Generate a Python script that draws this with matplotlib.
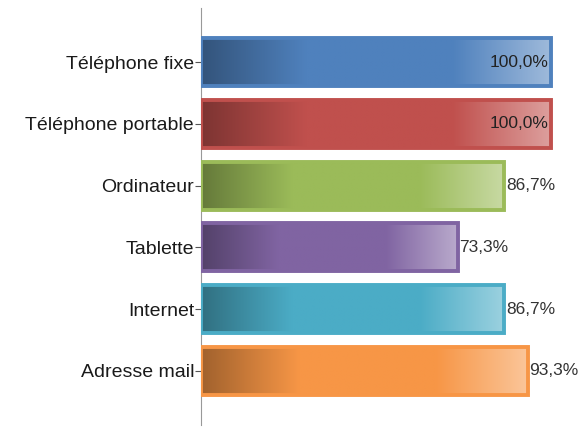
import numpy as np
import matplotlib.pyplot as plt
from matplotlib.patches import Rectangle
from matplotlib.colors import to_rgb

plt.rcParams['font.family'] = ['Liberation Sans', 'DejaVu Sans']

categories = ['Téléphone fixe', 'Téléphone portable', 'Ordinateur', 'Tablette', 'Internet', 'Adresse mail']
values = [100.0, 100.0, 86.7, 73.3, 86.7, 93.3]
colors = ['#4F81BD', '#C0504D', '#9BBB59', '#8064A2', '#4BACC6', '#F79646']


def gradient(color, n=256):
    c = np.array(to_rgb(color))
    dark = c * 0.65
    light = c + (1 - c) * 0.45
    t = np.linspace(0, 1, n)
    out = np.zeros((1, n, 3))
    for i, x in enumerate(t):
        if x < 0.3:
            f = x / 0.3
            out[0, i] = dark * (1 - f) + c * f
        elif x < 0.72:
            out[0, i] = c
        else:
            f = (x - 0.72) / 0.28
            out[0, i] = c * (1 - f) + light * f
    return out


fig = plt.figure(figsize=(5.88, 4.30), dpi=100)
ax = fig.add_axes([201 / 588, 5 / 430, 385 / 588, 417 / 430])

h = 0.78
for i, (v, col) in enumerate(zip(values, colors)):
    rect = Rectangle((0, i - h / 2), v, h, facecolor='none', edgecolor=col, linewidth=2.8, zorder=3)
    ax.add_patch(rect)
    im = ax.imshow(gradient(col), extent=(0, v, i + h / 2, i - h / 2), aspect='auto', zorder=2,
                   interpolation='bilinear')
    im.set_clip_path(rect)
    lab = f'{v:.1f}%'.replace('.', ',')
    if v >= 99.9:
        ax.text(v - 0.8, i, lab, ha='right', va='center', fontsize=12.5, color='#222222', zorder=4)
    else:
        ax.text(v + 0.4, i, lab, ha='left', va='center', fontsize=12.5, color='#333333', zorder=4)

ax.set_xlim(0, 110)
ax.set_ylim(5.88, -0.88)
ax.set_yticks(range(len(categories)))
ax.set_yticklabels(categories, fontsize=14, color='#1a1a1a')
ax.set_xticks([])
for s in ['top', 'right', 'bottom']:
    ax.spines[s].set_visible(False)
ax.spines['left'].set_color('#999999')
ax.tick_params(axis='y', length=4, color='#555555', pad=1)

fig.savefig('out.png', dpi=100)
